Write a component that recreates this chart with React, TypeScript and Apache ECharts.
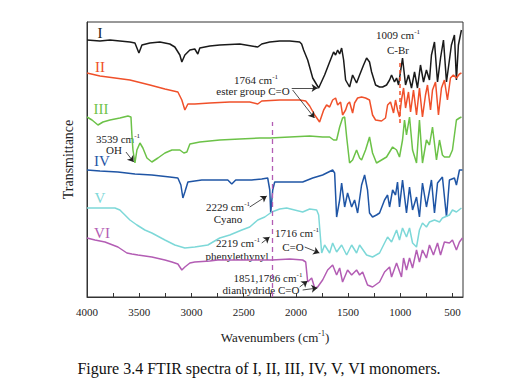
import React, { useEffect, useRef } from "react";
import * as echarts from "echarts";

// Wavenumber (cm^-1) vs offset transmittance (arbitrary units)
const SPECTRUM_I: number[][] = [
  [4000,257],[3876,256],[3780,257],[3685,256],[3589,255],[3541,254],[3503,244],[3474,252],[3398,254],[3302,255],
  [3207,253],[3159,250],[3111,242],[3092,235],[3063,242],[3015,247],[2968,248],[2939,243],[2920,249],[2824,251],
  [2729,252],[2537,253],[2365,250],[2327,253],[2250,255],[2155,256],[2059,256],[1964,255],[1945,253],[1926,247],
  [1887,237],[1839,219],[1782,209],[1725,222],[1677,235],[1639,245],[1620,242],[1600,247],[1581,243],[1562,249],
  [1543,237],[1524,217],[1486,210],[1457,222],[1419,214],[1390,222],[1352,232],[1323,239],[1295,235],[1275,225],
  [1237,212],[1199,210],[1170,210],[1132,212],[1103,217],[1084,222],[1056,215],[1036,219],[1017,212],[979,239],
  [950,212],[922,222],[893,209],[864,225],[836,209],[807,232],[778,215],[750,227],[721,217],[702,242],
  [673,255],[644,215],[615,239],[587,257],[558,215],[530,237],[511,252],[482,262],[463,217],[444,252],[415,267],
];
const SPECTRUM_II: number[][] = [
  [4000,224],[3876,221],[3732,219],[3589,217],[3398,212],[3254,208],[3130,205],[3092,197],[3063,187],[3034,193],
  [2968,193],[2824,194],[2633,195],[2442,195],[2365,193],[2327,196],[2155,197],[1964,197],[1906,196],[1868,191],
  [1820,182],[1773,175],[1734,187],[1706,192],[1677,190],[1648,197],[1620,199],[1600,192],[1572,195],[1553,182],
  [1524,187],[1505,193],[1486,195],[1457,184],[1438,194],[1409,199],[1371,200],[1333,199],[1295,197],[1266,182],
  [1237,177],[1180,176],[1142,179],[1122,192],[1094,195],[1065,184],[1046,197],[1027,187],[1008,180],[989,197],
  [969,209],[950,189],[922,205],[902,185],[874,207],[845,182],[817,209],[788,180],[759,202],[740,212],
  [711,187],[692,207],[663,215],[635,182],[606,209],[578,217],[549,197],[520,219],[492,222],[463,219],[434,223],[415,224],
];
const SPECTRUM_III: number[][] = [
  [4000,180],[3952,177],[3895,172],[3847,175],[3780,177],[3685,179],[3608,181],[3579,180],[3570,162],[3560,147],
  [3541,134],[3522,147],[3493,154],[3465,149],[3426,139],[3379,135],[3321,139],[3254,144],[3187,147],[3111,147],
  [3073,144],[3044,145],[3015,153],[2920,155],[2729,157],[2537,158],[2346,159],[2250,159],[2059,160],[1868,161],
  [1744,160],[1677,160],[1639,157],[1610,157],[1581,170],[1553,179],[1533,180],[1514,160],[1486,134],[1457,137],
  [1419,147],[1390,139],[1371,137],[1333,147],[1295,160],[1266,144],[1228,134],[1180,137],[1132,140],[1074,150],
  [1036,147],[1008,140],[979,157],[960,177],[941,162],[912,180],[883,147],[845,134],[817,177],[788,134],
  [750,157],[721,152],[692,170],[654,137],[625,157],[597,142],[578,140],[530,140],[501,147],[463,177],[434,179],[415,180],
];
const SPECTRUM_IV: number[][] = [
  [4000,127],[3876,126],[3704,125],[3541,123],[3379,122],[3207,120],[3130,119],[3101,112],[3082,99],[3063,105],
  [3034,115],[2968,116],[2901,117],[2776,117],[2652,117],[2614,113],[2576,117],[2423,117],[2327,118],[2270,119],
  [2250,107],[2241,84],[2222,107],[2203,115],[2059,115],[1935,115],[1839,119],[1744,122],[1648,127],[1629,124],
  [1610,80],[1581,97],[1562,114],[1533,90],[1505,104],[1466,90],[1438,97],[1409,84],[1371,112],[1342,122],
  [1314,107],[1295,84],[1266,80],[1228,82],[1199,84],[1151,97],[1122,102],[1103,90],[1074,107],[1046,102],
  [1027,115],[1008,90],[979,117],[941,84],[912,110],[883,87],[845,100],[817,80],[788,114],[750,90],
  [702,117],[673,84],[644,114],[597,120],[558,80],[530,117],[482,119],[463,112],[434,127],[405,127],
];
const SPECTRUM_V: number[][] = [
  [4000,89],[3876,89],[3732,89],[3685,87],[3637,82],[3589,77],[3522,72],[3446,67],[3379,64],[3254,57],
  [3159,52],[3063,49],[2968,50],[2843,52],[2729,59],[2633,62],[2518,67],[2442,70],[2365,77],[2298,80],
  [2231,85],[2155,88],[2088,89],[2012,87],[1935,85],[1868,88],[1801,87],[1782,82],[1763,57],[1753,44],
  [1725,52],[1677,44],[1648,54],[1610,45],[1562,52],[1514,42],[1466,52],[1419,44],[1390,52],[1323,42],
  [1266,40],[1199,44],[1151,54],[1122,60],[1084,55],[1036,67],[1008,57],[979,69],[941,60],[912,69],
  [883,54],[845,50],[817,67],[788,74],[750,70],[721,75],[673,77],[625,75],[597,79],[530,82],[501,87],[463,85],[415,89],
];
const SPECTRUM_VI: number[][] = [
  [4000,59],[3924,57],[3828,55],[3704,50],[3618,44],[3570,43],[3512,42],[3379,40],[3254,37],[3187,35],
  [3130,33],[3092,27],[3063,30],[3015,34],[2968,35],[2824,36],[2748,37],[2423,37],[2231,37],[2059,38],
  [1935,37],[1906,35],[1887,15],[1849,19],[1820,9],[1792,10],[1744,17],[1696,27],[1648,32],[1610,22],
  [1581,29],[1553,15],[1505,27],[1466,22],[1419,27],[1390,22],[1361,25],[1314,12],[1266,10],[1199,15],
  [1151,25],[1103,30],[1084,20],[1036,34],[989,20],[969,39],[941,27],[912,39],[883,29],[845,47],
  [817,35],[788,47],[750,39],[721,52],[683,42],[644,54],[615,42],[578,55],[530,54],[501,57],[463,47],[434,55],[405,59],
];

const SERIES_NAMES = ["I", "II", "III", "IV", "V", "VI"];
const SERIES_COLORS = ["#1a1a1a", "#f0502a", "#6cc248", "#1f55a5", "#7dd8d8", "#b35db4"];
const X_LABELS = [4000, 3500, 3000, 2500, 2000, 1500, 1000, 500];
const X_TICKS = [4000, 3750, 3500, 3250, 3000, 2750, 2500, 2250, 2000, 1750, 1500, 1250, 1000, 750, 500];

// reference markers (cm^-1, transmittance span)
const PHENYL_LINE = { w: 2225, from: 0, to: 175 };
const CBR_LINE = { w: 1009, from: 174, to: 237 };

// arrows: [start, tip]
const ARROWS: number[][][] = [
  [[2040, 209], [1792, 209]],
  [[2031, 207], [1822, 179]],
  [[3627, 145], [3553, 135]],
  [[2442, 90], [2279, 101]],
  [[2327, 54], [2252, 60]],
  [[1916, 50], [1775, 44]],
  [[1964, 10], [1889, 16]],
  [[1935, 7], [1794, 9]],
];

const FONT = "'Liberation Serif', 'Times New Roman', serif";

export default function App() {
  const ref = useRef<HTMLDivElement>(null);
  useEffect(() => {
    if (!ref.current) return;
    const chart = echarts.init(ref.current, undefined, { renderer: "svg" });
    const data = [SPECTRUM_I, SPECTRUM_II, SPECTRUM_III, SPECTRUM_IV, SPECTRUM_V, SPECTRUM_VI];

    const rich = (size: number, color: string) => ({
      n: { fontSize: size, fontFamily: FONT, fill: color, color, lineHeight: size + 3, verticalAlign: "middle" },
      s: { fontSize: Math.round(size * 0.6), fontFamily: FONT, fill: color, color, lineHeight: size + 3, verticalAlign: "top" },
    });

    const txt = (text: string, x: number, y: number, size: number, color: string) => ({
      type: "text",
      x,
      y,
      silent: true,
      style: {
        text,
        align: "center",
        verticalAlign: "middle",
        fontSize: size,
        fontFamily: FONT,
        fill: color,
        rich: rich(size, color),
      },
    });

    const ann = "#222";
    const graphic: any[] = [
      txt("I", 100, 33, 15, SERIES_COLORS[0]),
      txt("II", 100, 67, 15, SERIES_COLORS[1]),
      txt("III", 101, 109, 15, SERIES_COLORS[2]),
      txt("IV", 102, 161, 15, SERIES_COLORS[3]),
      txt("V", 100, 198, 15, SERIES_COLORS[4]),
      txt("VI", 102, 233, 15, SERIES_COLORS[5]),
      txt("{n|1764 cm}{s|-1}", 256, 80, 11, ann),
      txt("{n|ester group C=O}", 253, 91, 11, ann),
      txt("{n|1009 cm}{s|-1}", 398, 35, 11, ann),
      txt("{n|C-Br}", 398, 50, 11, ann),
      txt("{n|3539 cm}{s|-1}", 118, 139, 11, ann),
      txt("{n|OH}", 114, 150, 11, ann),
      txt("{n|2229 cm}{s|-1}", 228, 207, 11, ann),
      txt("{n|Cyano}", 228, 219, 11, ann),
      txt("{n|2219 cm}{s|-1}", 238, 243, 11, ann),
      txt("{n|phenylethynyl}", 237, 256, 11, ann),
      txt("{n|1716 cm}{s|-1}", 297, 233, 11, ann),
      txt("{n|C=O}", 293, 247, 11, ann),
      txt("{n|1851,1786 cm}{s|-1}", 268, 278, 11, ann),
      txt("{n|dianhydride C=O}", 261, 290, 11, ann),
      txt("Figure 3.4 FTIR spectra of I, II, III, IV, V, VI monomers.", 259, 368, 16, "#111"),
    ];

    const series: any[] = data.map((d, i) => ({
      type: "line",
      name: SERIES_NAMES[i],
      data: d,
      showSymbol: false,
      symbol: "none",
      silent: true,
      lineStyle: { color: SERIES_COLORS[i], width: 1.5 },
      itemStyle: { color: SERIES_COLORS[i] },
    }));

    series[0].markLine = {
      silent: true,
      animation: false,
      symbol: ["none", "arrow"],
      symbolSize: 6,
      label: { show: false },
      lineStyle: { color: "#222", type: "solid", width: 0.8 },
      data: ARROWS.map(([a, b]) => [{ coord: a }, { coord: b }]),
    };
    series[1].markLine = {
      silent: true,
      animation: false,
      symbol: ["none", "none"],
      label: { show: false },
      lineStyle: { color: SERIES_COLORS[1], type: [4, 3], width: 1.5 },
      data: [[{ coord: [CBR_LINE.w, CBR_LINE.from] }, { coord: [CBR_LINE.w, CBR_LINE.to] }]],
    };
    series[5].markLine = {
      silent: true,
      animation: false,
      symbol: ["none", "none"],
      label: { show: false },
      lineStyle: { color: SERIES_COLORS[5], type: [5, 4], width: 1.3 },
      data: [[{ coord: [PHENYL_LINE.w, PHENYL_LINE.from] }, { coord: [PHENYL_LINE.w, PHENYL_LINE.to] }]],
    };

    chart.setOption({
      animation: false,
      backgroundColor: "#ffffff",
      grid: {
        left: 87,
        top: 22,
        width: 376,
        height: 275,
        show: true,
        borderColor: "#333",
        borderWidth: 1,
        backgroundColor: "transparent",
      },
      xAxis: {
        type: "value",
        min: 400,
        max: 4000,
        inverse: true,
        name: "{n|Wavenumbers (cm}{s|-1}{n|)}",
        nameLocation: "middle",
        nameGap: 32,
        nameTextStyle: {
          color: "#222",
          fontFamily: FONT,
          fontSize: 13,
          rich: {
            n: { fontSize: 13, fontFamily: FONT, color: "#222", lineHeight: 16, verticalAlign: "middle" },
            s: { fontSize: 8, fontFamily: FONT, color: "#222", lineHeight: 16, verticalAlign: "top" },
          },
        },
        axisLine: { show: true, lineStyle: { color: "#333", width: 1 } },
        axisTick: { show: true, inside: true, length: 4, customValues: X_TICKS, lineStyle: { color: "#333" } },
        axisLabel: {
          customValues: X_LABELS,
          formatter: (v: number) => String(v),
          color: "#222",
          fontFamily: FONT,
          fontSize: 11,
          margin: 9,
        },
        splitLine: { show: false },
      },
      yAxis: {
        type: "value",
        min: 0,
        max: 275,
        name: "Transmittance",
        nameLocation: "middle",
        nameRotate: 90,
        nameGap: 12,
        nameTextStyle: { color: "#222", fontFamily: FONT, fontSize: 14 },
        axisLine: { show: true, lineStyle: { color: "#333", width: 1 } },
        axisTick: { show: false },
        axisLabel: { show: false },
        splitLine: { show: false },
      },
      series,
      graphic,
    });
    return () => chart.dispose();
  }, []);
  return (
    <div
      ref={ref}
      style={{ position: "fixed", left: 0, top: 0, width: 529, height: 385, background: "#fff" }}
    />
  );
}
